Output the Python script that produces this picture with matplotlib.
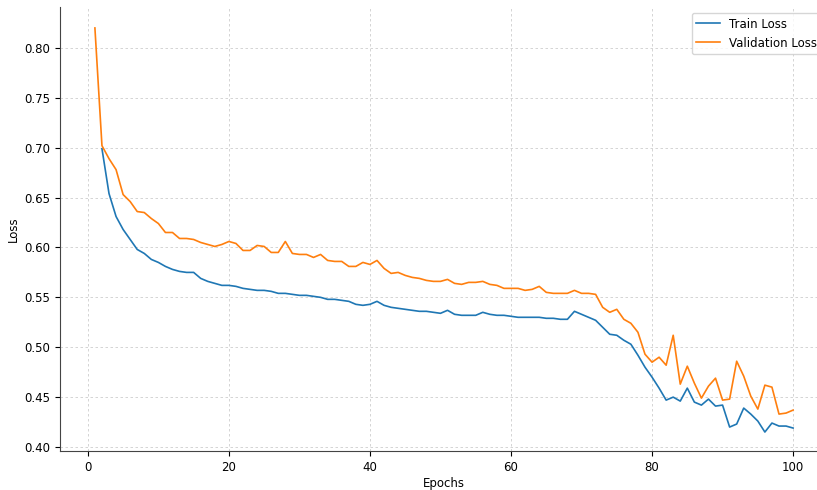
import numpy as np
import matplotlib
matplotlib.use('Agg')
import matplotlib.pyplot as plt

plt.rcParams['font.size'] = 8.5

epochs = np.arange(1, 101)

# epoch 1 of train loss is not visible in the source (hidden under val)
train_loss = [
    np.nan, 0.699, 0.654, 0.631, 0.618, 0.608, 0.598, 0.594, 0.588, 0.585,
    0.581, 0.578, 0.576, 0.575, 0.575, 0.569, 0.566, 0.564, 0.562, 0.562,
    0.561, 0.559, 0.558, 0.557, 0.557, 0.556, 0.554, 0.554, 0.553, 0.552,
    0.552, 0.551, 0.550, 0.548, 0.548, 0.547, 0.546, 0.543, 0.542, 0.543,
    0.546, 0.542, 0.540, 0.539, 0.538, 0.537, 0.536, 0.536, 0.535, 0.534,
    0.537, 0.533, 0.532, 0.532, 0.532, 0.535, 0.533, 0.532, 0.532, 0.531,
    0.530, 0.530, 0.530, 0.530, 0.529, 0.529, 0.528, 0.528, 0.536, 0.533,
    0.530, 0.527, 0.520, 0.513, 0.512, 0.507, 0.503, 0.492, 0.480, 0.470,
    0.459, 0.447, 0.450, 0.446, 0.459, 0.445, 0.442, 0.448, 0.441, 0.442,
    0.420, 0.423, 0.439, 0.433, 0.426, 0.415, 0.424, 0.421, 0.421, 0.419,
]

val_loss = [
    0.820, 0.702, 0.689, 0.678, 0.653, 0.646, 0.636, 0.635, 0.629, 0.624,
    0.615, 0.615, 0.609, 0.609, 0.608, 0.605, 0.603, 0.601, 0.603, 0.606,
    0.604, 0.597, 0.597, 0.602, 0.601, 0.595, 0.595, 0.606, 0.594, 0.593,
    0.593, 0.590, 0.593, 0.587, 0.586, 0.586, 0.581, 0.581, 0.585, 0.583,
    0.587, 0.579, 0.574, 0.575, 0.572, 0.570, 0.569, 0.567, 0.566, 0.566,
    0.568, 0.564, 0.563, 0.565, 0.565, 0.566, 0.563, 0.562, 0.559, 0.559,
    0.559, 0.557, 0.558, 0.561, 0.555, 0.554, 0.554, 0.554, 0.557, 0.554,
    0.554, 0.553, 0.540, 0.535, 0.538, 0.528, 0.524, 0.515, 0.493, 0.485,
    0.490, 0.482, 0.512, 0.463, 0.481, 0.464, 0.449, 0.461, 0.469, 0.447,
    0.448, 0.486, 0.471, 0.451, 0.438, 0.462, 0.460, 0.433, 0.434, 0.437,
]

fig = plt.figure(figsize=(8.17, 4.90), dpi=100)
ax = fig.add_axes([60/817, 39/490, 768/817, 444/490])

ax.plot(epochs, train_loss, color='#1f77b4', linewidth=1.2, label='Train Loss')
ax.plot(epochs, val_loss, color='#ff7f0e', linewidth=1.2, label='Validation Loss')

ax.set_xlim(-3.95, 104.95)
ax.set_ylim(0.396, 0.841)
ax.set_xticks([0, 20, 40, 60, 80, 100])
ax.set_yticks(np.arange(0.40, 0.801, 0.05))
ax.set_yticklabels(['%.2f' % v for v in np.arange(0.40, 0.801, 0.05)])

ax.grid(True, linestyle=(0, (3, 3)), color='#b8b8b8', alpha=0.7, linewidth=0.6)
ax.spines['top'].set_visible(False)
ax.spines['right'].set_visible(False)
ax.spines['left'].set_color('#444444')
ax.spines['bottom'].set_color('#444444')

ax.set_xlabel('Epochs', labelpad=2)
ax.set_ylabel('Loss', labelpad=3)
ax.legend(loc='upper right')

plt.savefig('out.png', dpi=100)
